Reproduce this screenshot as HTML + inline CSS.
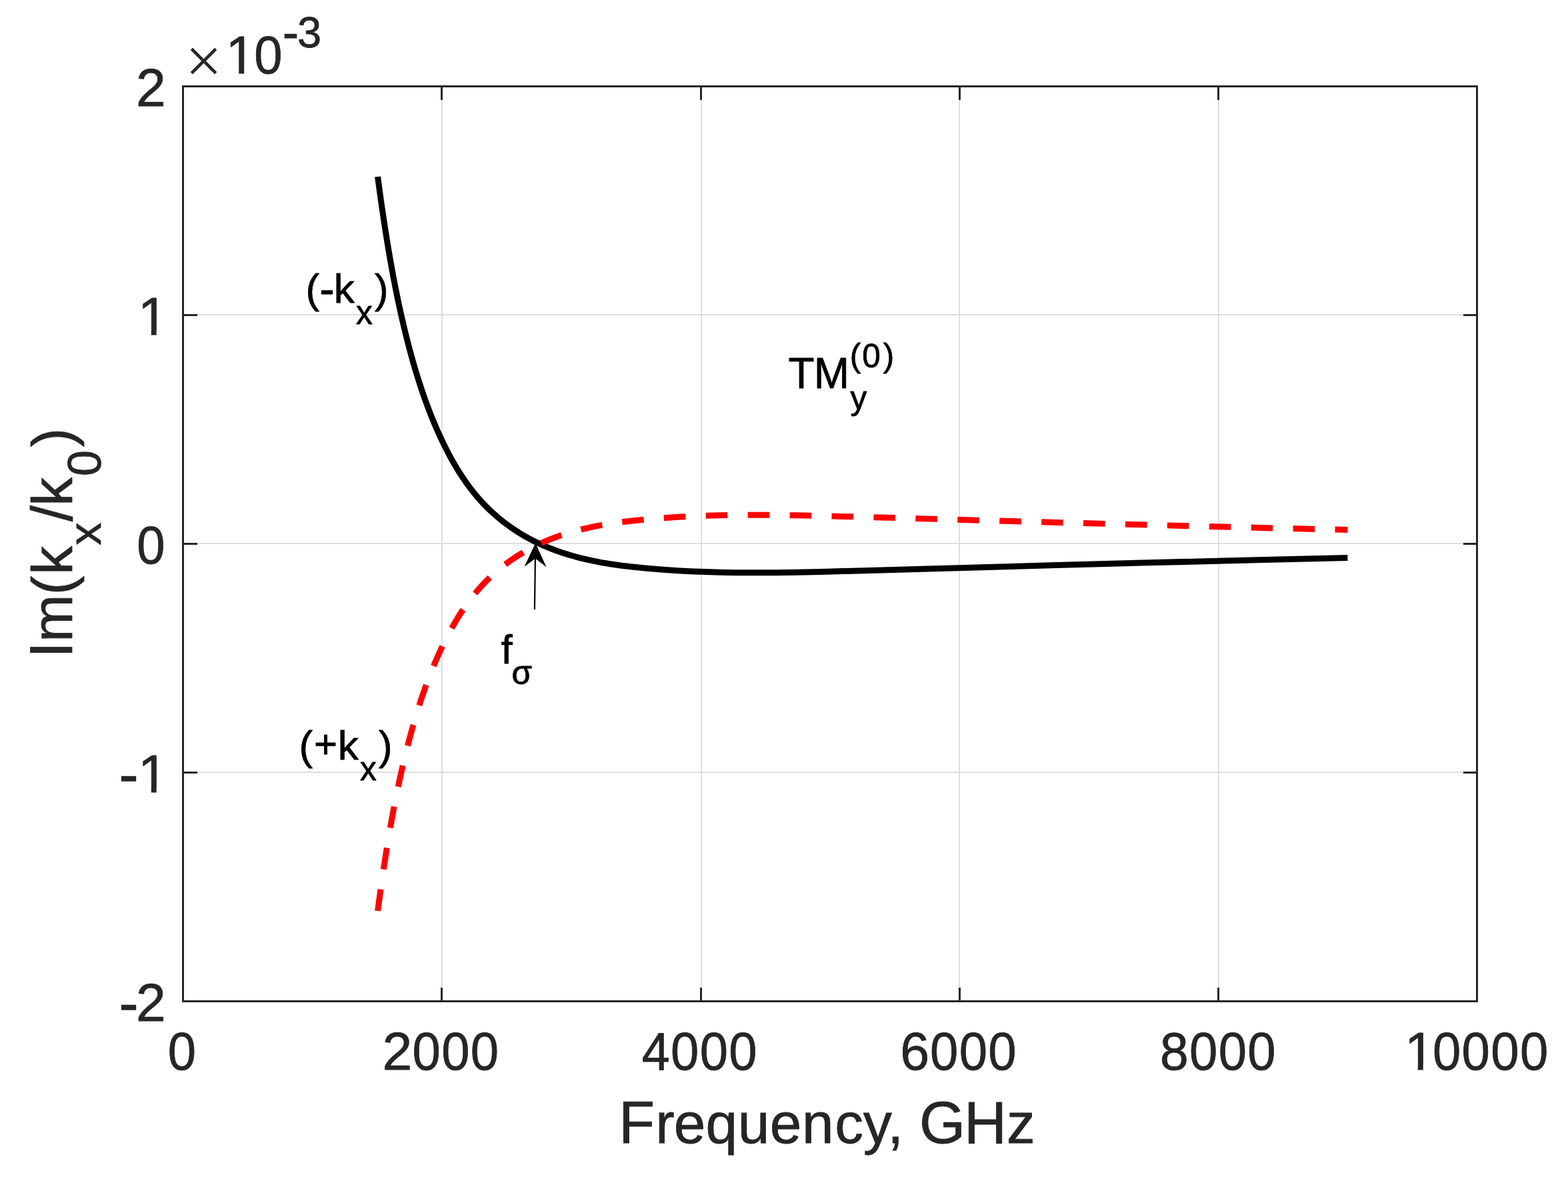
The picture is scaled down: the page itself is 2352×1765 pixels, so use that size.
<!DOCTYPE html><html><head><meta charset="utf-8"><title>Im(kx/k0) vs Frequency</title><style>html,body{margin:0;padding:0;background:#fff;overflow:hidden}svg{display:block}</style></head><body><svg width="2352" height="1765" viewBox="0 0 2352 1765"><rect width="2352" height="1765" fill="#fff"/><path d="M663 131V1500M1052 131V1500M1439 131V1500M1828 131V1500M276 472H2214M276 815H2214M276 1158H2214" stroke="#dedede" stroke-width="2" fill="none"/><path d="M662.5 129.5v20.5M662.5 1501.5v-20.5M1051.5 129.5v20.5M1051.5 1501.5v-20.5M1439.5 129.5v20.5M1439.5 1501.5v-20.5M1827.5 129.5v20.5M1827.5 1501.5v-20.5M274.5 472.5h21.5M2215.5 472.5h-20.5M274.5 815.5h21.5M2215.5 815.5h-20.5M274.5 1158.5h21.5M2215.5 1158.5h-20.5" stroke="#262626" stroke-width="3" fill="none"/><path d="M566.56 264.99 571.33 300.01 575.99 331.96 580.70 362.03 585.47 390.23 590.44 417.45 593.02 430.73 595.64 443.69 598.29 456.32 601.05 468.93 603.84 481.22 606.74 493.48 609.74 505.71 612.79 517.62 615.86 529.21 618.97 540.46 622.12 551.39 625.30 561.99 628.51 572.25 631.74 582.18 635.10 592.07 638.60 601.91 642.11 611.42 645.65 620.59 649.33 629.72 653.01 638.51 656.84 647.25 660.80 655.94 664.63 664.01 668.60 672.03 672.56 679.71 676.66 687.32 680.74 694.57 684.81 701.47 689.01 708.29 693.19 714.74 697.50 721.10 701.77 727.10 706.17 733.00 710.71 738.78 715.40 744.44 720.02 749.75 724.79 754.94 729.48 759.79 734.51 764.73 739.91 769.74 745.20 774.40 750.86 779.12 756.41 783.50 762.31 787.92 768.08 792.00 774.21 796.10 780.19 799.87 786.26 803.49 792.41 806.95 798.93 810.39 805.52 813.66 812.21 816.76 818.96 819.69 826.07 822.58 831.82 824.77 837.89 826.96 843.71 828.94 849.87 830.91 856.06 832.78 862.28 834.54 868.83 836.28 875.41 837.92 882.01 839.45 888.64 840.88 902.53 843.57 917.09 845.99 932.62 848.18 950.63 850.31 970.50 852.28 991.62 854.04 1013.06 855.50 1034.83 856.68 1057.22 857.60 1080.24 858.25 1104.20 858.66 1132.47 858.82 1162.29 858.68 1194.59 858.23 1231.20 857.45 1277.34 856.23 1593.31 847.37 1731.56 843.62 1883.98 839.70 2021.45 836.45" stroke="#000" stroke-width="9" fill="none" stroke-linejoin="round"/><path d="M566.56 1366.01 571.33 1330.99 575.99 1299.04 580.70 1268.97 585.47 1240.77 590.44 1213.55 593.02 1200.27 595.64 1187.31 598.29 1174.68 601.05 1162.07 603.84 1149.78 606.74 1137.52 609.74 1125.29 612.79 1113.38 615.86 1101.79 618.97 1090.54 622.12 1079.61 625.30 1069.01 628.51 1058.75 631.74 1048.82 635.10 1038.93 638.60 1029.09 642.11 1019.58 645.65 1010.41 649.33 1001.28 653.01 992.49 656.84 983.75 660.80 975.06 664.63 966.99 668.60 958.97 672.56 951.29 676.66 943.68 680.74 936.43 684.81 929.53 689.01 922.71 693.19 916.26 697.50 909.90 701.77 903.90 706.17 898.00 710.71 892.22 715.40 886.56 720.02 881.25 724.79 876.06 729.48 871.21 734.51 866.27 739.91 861.26 745.20 856.60 750.86 851.88 756.41 847.50 762.31 843.08 768.08 839.00 774.21 834.90 780.19 831.13 786.26 827.51 792.41 824.05 798.93 820.61 805.52 817.34 812.21 814.24 818.96 811.31 826.07 808.42 831.82 806.23 837.89 804.04 843.71 802.06 849.87 800.09 856.06 798.22 862.28 796.46 868.83 794.72 875.41 793.08 882.01 791.55 888.64 790.12 902.53 787.43 917.09 785.01 932.62 782.82 950.63 780.69 970.50 778.72 991.62 776.96 1013.06 775.50 1034.83 774.32 1057.22 773.40 1080.24 772.75 1104.20 772.34 1132.47 772.18 1162.29 772.32 1194.59 772.77 1231.20 773.55 1277.34 774.77 1593.31 783.63 1731.56 787.38 1883.98 791.30 2021.45 794.55" stroke="#ff0000" stroke-width="9" fill="none" stroke-dasharray="32.6 30.34" stroke-linejoin="round"/><path d="M801.9 914L803 832" stroke="#000" stroke-width="2.2" fill="none"/><path d="M803.2 814.5L786.5 849.8L803 837.5L819.6 850.2Z" fill="#000"/><rect x="274.5" y="129.5" width="1941" height="1372" fill="none" stroke="#262626" stroke-width="3"/><defs><clipPath id="c1_1" clipPathUnits="userSpaceOnUse"><rect x="-10" y="-10" width="2372.00" height="504.39"/><rect x="-10" y="-10" width="220.09" height="1785"/><rect x="250.58" y="-10" width="2111.42" height="1785"/><rect x="226.79" y="-10" width="7.91" height="1785"/></clipPath><clipPath id="c1_2" clipPathUnits="userSpaceOnUse"><rect x="-10" y="-10" width="2372.00" height="1190.39"/><rect x="-10" y="-10" width="220.09" height="1785"/><rect x="250.58" y="-10" width="2111.42" height="1785"/><rect x="226.79" y="-10" width="7.91" height="1785"/></clipPath><clipPath id="c1_3" clipPathUnits="userSpaceOnUse"><rect x="-10" y="-10" width="2372.00" height="1606.39"/><rect x="-10" y="-10" width="2120.09" height="1785"/><rect x="2150.58" y="-10" width="211.42" height="1785"/><rect x="2126.79" y="-10" width="7.91" height="1785"/></clipPath><clipPath id="c1_4" clipPathUnits="userSpaceOnUse"><rect x="-10" y="-10" width="2372.00" height="112.99"/><rect x="-10" y="-10" width="351.59" height="1785"/><rect x="382.08" y="-10" width="1979.92" height="1785"/><rect x="358.29" y="-10" width="7.91" height="1785"/></clipPath></defs><g style="font-family:'Liberation Sans',Arial,sans-serif;font-kerning:none" stroke="#262626" stroke-width="0.8" stroke-linejoin="round"><text x="204.11" y="158.60" font-size="80.5" fill="#262626">2</text><text x="206.95" y="501.60" font-size="80.5" fill="#262626" clip-path="url(#c1_1)">1</text><text x="204.11" y="844.80" font-size="80.5" fill="#262626" transform="matrix(0.945 0 0 1 12.458 0)">0</text><text x="178.68" y="1190.14" font-size="86" fill="#262626" stroke="#262626" stroke-width="1.3">-</text><text x="206.95" y="1187.60" font-size="80.5" fill="#262626" clip-path="url(#c1_2)">1</text><text x="178.68" y="1533.14" font-size="86" fill="#262626" stroke="#262626" stroke-width="1.3">-</text><text x="204.11" y="1530.60" font-size="80.5" fill="#262626">2</text><text x="250.61" y="1603.60" font-size="80.5" fill="#262626" transform="matrix(0.945 0 0 1 15.015 0)">0</text><text x="573.61" y="1603.60" font-size="80.5" fill="#262626">2</text><text x="617.28" y="1603.60" font-size="80.5" fill="#262626" transform="matrix(0.945 0 0 1 35.182 0)">0</text><text x="660.95" y="1603.60" font-size="80.5" fill="#262626" transform="matrix(0.945 0 0 1 37.583 0)">0</text><text x="704.62" y="1603.60" font-size="80.5" fill="#262626" transform="matrix(0.945 0 0 1 39.985 0)">0</text><text x="961.37" y="1603.60" font-size="80.5" fill="#262626" transform="matrix(0.94 0 0 1 59.010 0)">4</text><text x="1004.78" y="1603.60" font-size="80.5" fill="#262626" transform="matrix(0.945 0 0 1 56.494 0)">0</text><text x="1048.45" y="1603.60" font-size="80.5" fill="#262626" transform="matrix(0.945 0 0 1 58.896 0)">0</text><text x="1092.12" y="1603.60" font-size="80.5" fill="#262626" transform="matrix(0.945 0 0 1 61.298 0)">0</text><text x="1349.83" y="1603.60" font-size="80.5" fill="#262626" transform="matrix(0.98 0 0 1 27.450 0)">6</text><text x="1393.78" y="1603.60" font-size="80.5" fill="#262626" transform="matrix(0.945 0 0 1 77.889 0)">0</text><text x="1437.45" y="1603.60" font-size="80.5" fill="#262626" transform="matrix(0.945 0 0 1 80.291 0)">0</text><text x="1481.12" y="1603.60" font-size="80.5" fill="#262626" transform="matrix(0.945 0 0 1 82.693 0)">0</text><text x="1739.11" y="1603.60" font-size="80.5" fill="#262626" transform="matrix(0.955 0 0 1 79.267 0)">8</text><text x="1782.78" y="1603.60" font-size="80.5" fill="#262626" transform="matrix(0.945 0 0 1 99.284 0)">0</text><text x="1826.45" y="1603.60" font-size="80.5" fill="#262626" transform="matrix(0.945 0 0 1 101.686 0)">0</text><text x="1870.12" y="1603.60" font-size="80.5" fill="#262626" transform="matrix(0.945 0 0 1 104.088 0)">0</text><text x="2147.71" y="1603.60" font-size="80.5" fill="#262626" transform="matrix(0.945 0 0 1 119.355 0)">0</text><text x="2191.38" y="1603.60" font-size="80.5" fill="#262626" transform="matrix(0.945 0 0 1 121.757 0)">0</text><text x="2235.05" y="1603.60" font-size="80.5" fill="#262626" transform="matrix(0.945 0 0 1 124.159 0)">0</text><text x="2278.72" y="1603.60" font-size="80.5" fill="#262626" transform="matrix(0.945 0 0 1 126.561 0)">0</text><text x="2106.95" y="1603.60" font-size="80.5" fill="#262626" clip-path="url(#c1_3)">1</text><text x="275.20" y="114.29" font-size="60.6" fill="#262626" stroke-width="0.4" style="font-family:'Noto Sans CJK JP','Liberation Sans',sans-serif">×</text><text x="338.45" y="110.20" font-size="80.5" fill="#262626" clip-path="url(#c1_4)">1</text><text x="380.11" y="110.20" font-size="80.5" fill="#262626" transform="matrix(0.945 0 0 1 22.138 0)">0</text><text x="424.01" y="72.92" font-size="72" fill="#262626" stroke="#262626" stroke-width="1.2">-</text><text x="446.12" y="71.38" font-size="65" fill="#262626">3</text><text fill="#262626"><tspan x="928.00" y="1713.60" font-size="88.7">F</tspan><tspan x="983.13" y="1713.60" font-size="85.5">r</tspan><tspan x="1010.81" y="1713.60" font-size="85.5">e</tspan><tspan x="1058.61" y="1713.60" font-size="85.5">q</tspan><tspan x="1106.64" y="1713.60" font-size="85.5">u</tspan><tspan x="1154.81" y="1713.60" font-size="85.5">e</tspan><tspan x="1203.11" y="1713.60" font-size="85.5">n</tspan><tspan x="1252.24" y="1713.60" font-size="85.5">c</tspan><tspan x="1295.10" y="1713.60" font-size="85.5">y</tspan><tspan x="1331.17" y="1713.60" font-size="85.5">,</tspan><tspan> </tspan><tspan x="1378.94" y="1713.60" font-size="88.7">G</tspan><tspan x="1446.00" y="1713.60" font-size="88.7">H</tspan><tspan x="1510.02" y="1713.60" font-size="85.5">z</tspan></text><text transform="translate(108 0) rotate(-90)" fill="#262626"><tspan x="-987.00" y="-0.40" font-size="90">I</tspan><tspan x="-962.63" y="-0.40" font-size="85.5">m</tspan><tspan x="-892.23" y="-0.40" font-size="86">(</tspan><tspan x="-861.85" y="-0.40" font-size="85.6">k</tspan><tspan x="-817.64" y="42.60" font-size="68.5">x</tspan><tspan x="-782.04" y="-0.40" font-size="86.7">/</tspan><tspan x="-758.85" y="-0.40" font-size="85.6">k</tspan><tspan x="-713.97" y="42.60" font-size="70">0</tspan><tspan x="-670.40" y="-0.40" font-size="86">)</tspan></text><text fill="#000" stroke="#000"><tspan x="458.44" y="453.70" font-size="62">(</tspan><tspan x="479.51" y="455.53" font-size="66" stroke="#000" stroke-width="1.2">-</tspan><tspan x="500.87" y="454.00" font-size="62">k</tspan><tspan x="534.11" y="486.00" font-size="49.5">x</tspan><tspan x="561.92" y="453.70" font-size="62">)</tspan></text><text fill="#000" stroke="#000"><tspan x="448.44" y="1138.70" font-size="62">(</tspan><tspan x="471.00" y="1136.45" font-size="60">+</tspan><tspan x="506.87" y="1139.00" font-size="62">k</tspan><tspan x="540.11" y="1170.00" font-size="49.5">x</tspan><tspan x="567.92" y="1138.70" font-size="62">)</tspan></text><text fill="#000" stroke="#000"><tspan x="1182.47" y="582.00" font-size="64">T</tspan><tspan x="1220.84" y="582.00" font-size="64">M</tspan><tspan x="1274.87" y="550.31" font-size="49.5">(</tspan><tspan x="1293.24" y="550.54" font-size="49.5">0</tspan><tspan x="1324.65" y="550.31" font-size="49.5">)</tspan><tspan x="1275.61" y="613.94" font-size="49.5">y</tspan></text><text fill="#000" stroke="#000"><tspan x="751.40" y="995.00" font-size="62">f</tspan><tspan x="767.56" y="1026.33" font-size="49.5">σ</tspan></text></g></svg></body></html>
